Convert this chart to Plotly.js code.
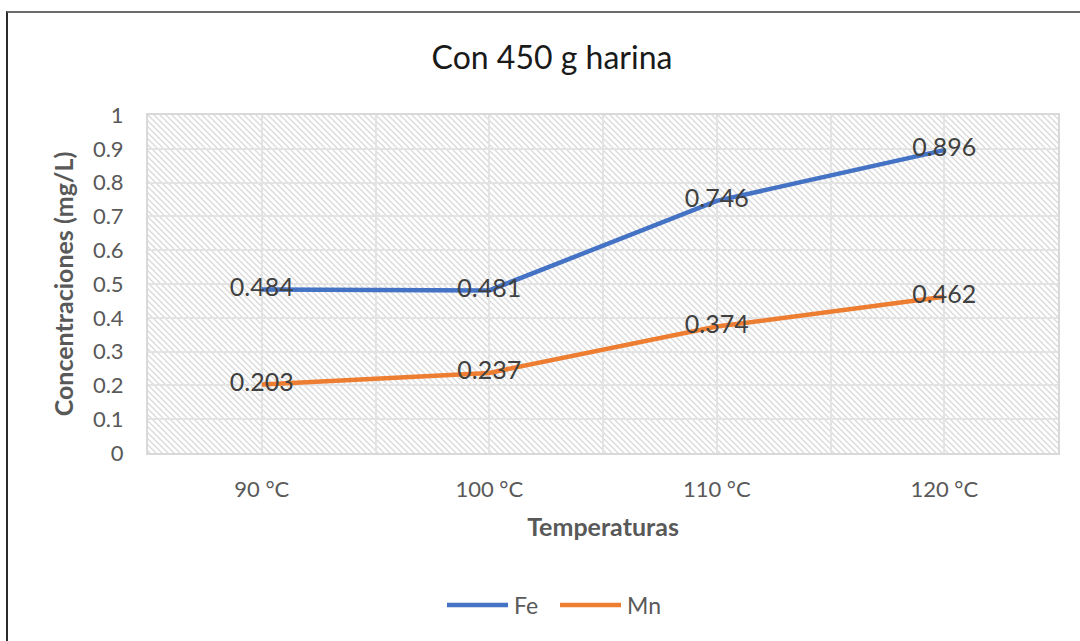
<!DOCTYPE html>
<html>
<head>
<meta charset="utf-8">
<script src="https://cdn.plot.ly/plotly-3.0.1.min.js"></script>
<style>
  html, body { margin: 0; padding: 0; background: #fff; }
  #wrap { position: relative; width: 1080px; height: 641px; overflow: hidden; }
  #chart { width: 1080px; height: 641px; }
  #frame {
    position: absolute; left: 6px; top: 11px; width: 1100px; height: 700px;
    border-top: 2px solid #6b6b6b; border-left: 2px solid #2b2b2b;
    pointer-events: none;
  }
</style>
</head>
<body>
<div id="wrap">
  <div id="chart"></div>
  <div id="frame"></div>
</div>
<script>
// Temperatures and measured concentrations (mg/L)
const categories = ['90 °C', '100 °C', '110 °C', '120 °C'];
const feValues = [0.484, 0.481, 0.746, 0.896];
const mnValues = [0.203, 0.237, 0.374, 0.462];
const seriesNames = ['Fe', 'Mn'];
const seriesColors = ['#4472C4', '#ED7D31'];
const yTickVals = [0, 0.1, 0.2, 0.3, 0.4, 0.5, 0.6, 0.7, 0.8, 0.9, 1];

const FONT = 'Lato, "Open Sans", sans-serif';
const xIdx = categories.map((c, i) => i);

// Plot area geometry in pixels
const M = { l: 148, r: 22, t: 115, b: 188 };
const plotW = 1080 - M.l - M.r;
const plotH = 641 - M.t - M.b;

// Diagonal hatch fill for the plot area
const hatchSvg =
  '<svg xmlns="http://www.w3.org/2000/svg" width="' + plotW + '" height="' + plotH + '">' +
  '<defs><pattern id="h" patternUnits="userSpaceOnUse" width="6" height="6">' +
  '<path d="M-1,5 L1,7 M0,0 L6,6 M5,-1 L7,1" stroke="#d9d9d9" stroke-width="1.3"/>' +
  '</pattern></defs>' +
  '<rect width="100%" height="100%" fill="#ffffff"/>' +
  '<rect width="100%" height="100%" fill="url(#h)"/></svg>';
const hatchUri = 'data:image/svg+xml;charset=utf-8,' + encodeURIComponent(hatchSvg);

const series = [feValues, mnValues];
const traces = series.map((vals, k) => ({
  type: 'scatter',
  mode: 'lines+text',
  name: seriesNames[k],
  x: xIdx,
  y: vals,
  text: vals.map(v => v.toFixed(3)),
  textposition: 'middle center',
  textfont: { family: FONT, size: 25, color: '#404040' },
  line: { color: seriesColors[k], width: 4.5, shape: 'linear' },
  cliponaxis: false,
  showlegend: false,
  hoverinfo: 'x+y'
}));

// Legend drawn as line samples with labels beneath the plot
const legendY = (641 - 605 - M.b) / plotH;
const toPaperX = px => (px - M.l) / plotW;
const legendItems = [
  { x0: 447, x1: 508, tx: 512 },
  { x0: 560, x1: 621, tx: 625 }
];
const shapes = legendItems.map((it, k) => ({
  type: 'line', xref: 'paper', yref: 'paper',
  x0: toPaperX(it.x0), x1: toPaperX(it.x1), y0: legendY, y1: legendY,
  line: { color: seriesColors[k], width: 4.5 }
}));
const annotations = legendItems.map((it, k) => ({
  xref: 'paper', yref: 'paper', x: toPaperX(it.tx), y: legendY,
  xanchor: 'left', yanchor: 'middle', showarrow: false,
  text: seriesNames[k],
  font: { family: FONT, size: 23, color: '#595959' }
}));

const layout = {
  width: 1080, height: 641,
  margin: M,
  paper_bgcolor: '#ffffff',
  plot_bgcolor: 'rgba(0,0,0,0)',
  showlegend: false,
  title: {
    text: 'Con 450 g harina',
    font: { family: FONT, size: 32, color: '#1a1a1a' },
    xref: 'container', yref: 'container',
    x: 552 / 1080, y: 1 - 58 / 641,
    xanchor: 'center', yanchor: 'middle'
  },
  xaxis: {
    range: [-0.5, categories.length - 0.5],
    tickmode: 'array', tickvals: xIdx, ticktext: categories,
    tickfont: { family: FONT, size: 22, color: '#595959' },
    ticks: '', ticklabelstandoff: 16,
    showgrid: true, gridcolor: '#e3e3e3', gridwidth: 2,
    minor: { tickmode: 'linear', tick0: -0.5, dtick: 1, showgrid: true, gridcolor: '#e3e3e3', gridwidth: 2, ticks: '' },
    showline: true, linecolor: '#d9d9d9', linewidth: 2, mirror: true,
    zeroline: false, fixedrange: true,
    title: {
      text: '<b>Temperaturas</b>',
      font: { family: FONT, size: 25, color: '#595959' },
      standoff: 17
    }
  },
  yaxis: {
    range: [0, 1],
    tickmode: 'array', tickvals: yTickVals,
    ticktext: yTickVals.map(v => String(v)),
    tickfont: { family: FONT, size: 22, color: '#595959' },
    ticks: '', ticklabelstandoff: 18,
    showgrid: true, gridcolor: '#e3e3e3', gridwidth: 2,
    showline: true, linecolor: '#d9d9d9', linewidth: 2, mirror: true,
    zeroline: false, fixedrange: true,
    title: {
      text: '<b>Concentraciones (mg/L)</b>',
      font: { family: FONT, size: 25, color: '#595959' },
      standoff: 12
    }
  },
  images: [{
    source: hatchUri, xref: 'paper', yref: 'paper',
    x: 0, y: 1, sizex: 1, sizey: 1, xanchor: 'left', yanchor: 'top',
    sizing: 'stretch', layer: 'below'
  }],
  shapes: shapes,
  annotations: annotations
};

Plotly.newPlot('chart', traces, layout, { displayModeBar: false, staticPlot: true });
</script>
</body>
</html>
